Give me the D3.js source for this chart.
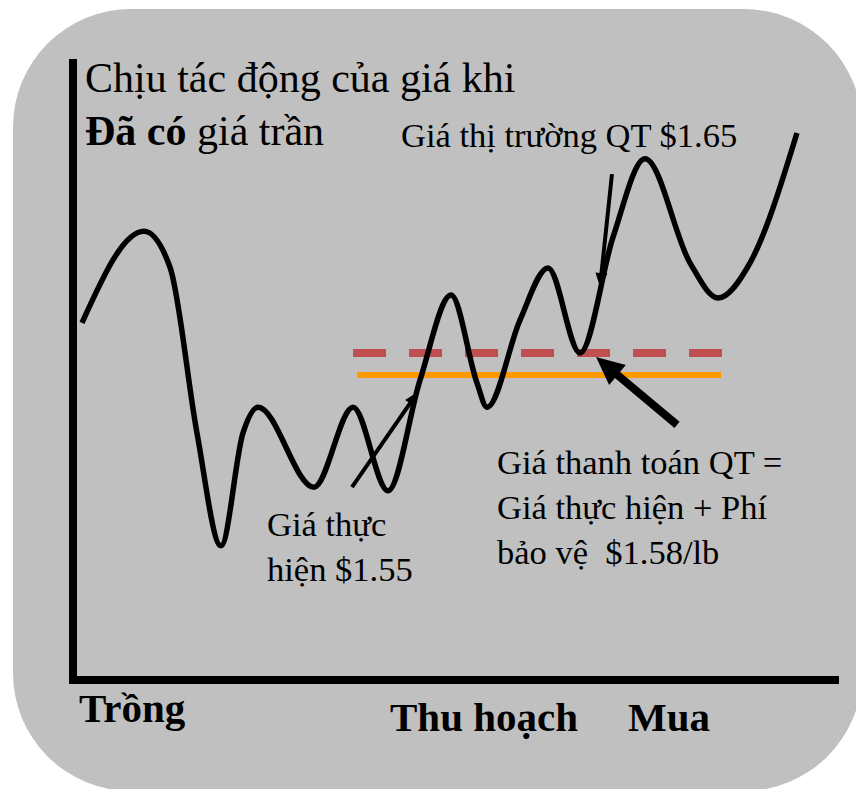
<!DOCTYPE html>
<html>
<head>
<meta charset="utf-8">
<script src="https://cdn.jsdelivr.net/npm/d3@7"></script>
<style>
  svg text, svg tspan { font-family: serif !important; }
</style>
</head>
<body style="margin:0">
<script>
// price path over the season (time units 0-100, price in $/lb)
var pathTime  = [1.18, 9.32, 12.73, 16.27, 19.42, 22.31, 24.28, 31.63, 36.75, 41.34, 45.54, 49.61,
                 53.02, 54.33, 58.66, 62.34, 66.54, 70.87, 75.07, 80.97, 84.65, 88.85, 95.01];
var pathPrice = [1.621, 1.746, 1.697, 1.471, 1.317, 1.471, 1.506, 1.397, 1.506, 1.392, 1.543, 1.659,
                 1.539, 1.506, 1.625, 1.696, 1.580, 1.738, 1.845, 1.703, 1.655, 1.703, 1.880];

// horizontal price levels
var levelNames  = ["settle", "strike"];
var levelPrice  = [1.58, 1.55];
var levelStart  = [36.75, 37.27];
var levelEnd    = [85.17, 85.04];

// arrows: [time, price] of tail and tip
var arrowNames = ["strike", "market", "settle"];
var arrowFrom  = [[36.61, 1.397], [70.73, 1.824], [79.27, 1.482]];
var arrowTo    = [[45.28, 1.527], [69.16, 1.670], [68.64, 1.5745]];

// texts
var titleLine1 = "Chịu tác động của giá khi";
var titleBold = "Đã có", titleRest = " giá trần";
var marketLabel = "Giá thị trường QT $1.65";
var strikeLabel = ["Giá thực", "hiện $1.55"];
var settleLabel = ["Giá thanh toán QT =", "Giá thực hiện + Phí", "bảo vệ  $1.58/lb"];
var timeLabels = ["Trồng", "Thu hoạch", "Mua"];

var width = 856, height = 789;

var svg = d3.select("body").append("svg")
    .attr("width", width)
    .attr("height", height)
    .attr("font-family", "serif");

//grey rounded panel
svg.append("rect")
    .attr("x", 13).attr("y", 9)
    .attr("width", 849).attr("height", 782)
    .attr("rx", 118).attr("ry", 118)
    .attr("fill", "#c0c0c0");

var x = d3.scaleLinear().domain([0, 100]).range([73, 835]);
var y = d3.scaleLinear().domain([1.134, 1.981]).range([680, 59]);

//axes, no ticks
var yAxis = svg.append("g")
    .attr("transform", "translate(73,0)")
    .call(d3.axisLeft(y).tickValues([]).tickSizeOuter(0).offset(0))
    .attr("font-family", null).attr("font-size", null);
yAxis.select(".domain").attr("stroke", "#000").attr("stroke-width", 8);

var xAxis = svg.append("g")
    .attr("transform", "translate(0,680)")
    .call(d3.axisBottom(x).tickValues([]).tickSizeOuter(0).offset(0))
    .attr("font-family", null).attr("font-size", null);
xAxis.select(".domain").attr("stroke", "#000").attr("stroke-width", 8)
    .attr("stroke-linecap", "square");

//price levels
var levelColor = { settle: "#c0504d", strike: "#ff9900" };
levelNames.forEach(function(name, i){
    svg.append("line")
        .attr("x1", x(levelStart[i])).attr("x2", x(levelEnd[i]))
        .attr("y1", y(levelPrice[i])).attr("y2", y(levelPrice[i]))
        .attr("stroke", levelColor[name])
        .attr("stroke-width", name === "settle" ? 8 : 6)
        .attr("stroke-dasharray", name === "settle" ? "33,23" : null);
});

//price curve
var pts = pathTime.map(function(t, i){ return [t, pathPrice[i]]; });
var line = d3.line()
    .x(function(d){ return x(d[0]); })
    .y(function(d){ return y(d[1]); })
    .curve(d3.curveMonotoneX);

svg.append("path")
    .datum(pts)
    .attr("d", line)
    .attr("fill", "none")
    .attr("stroke", "#000")
    .attr("stroke-width", 5.5)
    .attr("stroke-linejoin", "round");

//arrows
var arrowWidth = { strike: 4, market: 4, settle: 8 };
var headLen = { strike: 14, market: 14, settle: 28 };
var headHalf = { strike: 6, market: 6, settle: 13 };
arrowNames.forEach(function(name, i){
    var x0 = x(arrowFrom[i][0]), y0 = y(arrowFrom[i][1]);
    var x1 = x(arrowTo[i][0]),   y1 = y(arrowTo[i][1]);
    var a = Math.atan2(y1 - y0, x1 - x0);
    var L = headLen[name], H = headHalf[name];
    var bx = x1 - L * Math.cos(a), by = y1 - L * Math.sin(a);
    svg.append("line")
        .attr("x1", x0).attr("y1", y0)
        .attr("x2", x1 - (L - 2) * Math.cos(a)).attr("y2", y1 - (L - 2) * Math.sin(a))
        .attr("stroke", "#000")
        .attr("stroke-width", arrowWidth[name]);
    svg.append("path")
        .attr("d", "M" + x1 + "," + y1 +
            "L" + (bx + H * Math.sin(a)) + "," + (by - H * Math.cos(a)) +
            "L" + (bx - H * Math.sin(a)) + "," + (by + H * Math.cos(a)) + "Z")
        .attr("fill", "#000");
});

//texts
function addText(px, py, size, str, bold){
    return svg.append("text")
        .attr("x", px).attr("y", py)
        .attr("font-family", "serif")
        .attr("font-size", size)
        .attr("font-weight", bold ? "bold" : null)
        .text(str);
}

addText(85, 92, 42, titleLine1, false);
var t2 = addText(85, 145, 42, "", false);
t2.append("tspan").attr("font-weight", "bold").text(titleBold);
t2.append("tspan").text(titleRest);

addText(401, 147, 34.5, marketLabel, false);

strikeLabel.forEach(function(s, i){
    addText(267, 536 + i * 45, 34.5, s, false);
});
settleLabel.forEach(function(s, i){
    addText(497, 474 + i * 45, 34.5, s, false).style("white-space", "pre");
});

var labelX = [79, 390, 628], labelY = [722, 731, 731];
timeLabels.forEach(function(s, i){
    addText(labelX[i], labelY[i], 41, s, true);
});
</script>
</body>
</html>
